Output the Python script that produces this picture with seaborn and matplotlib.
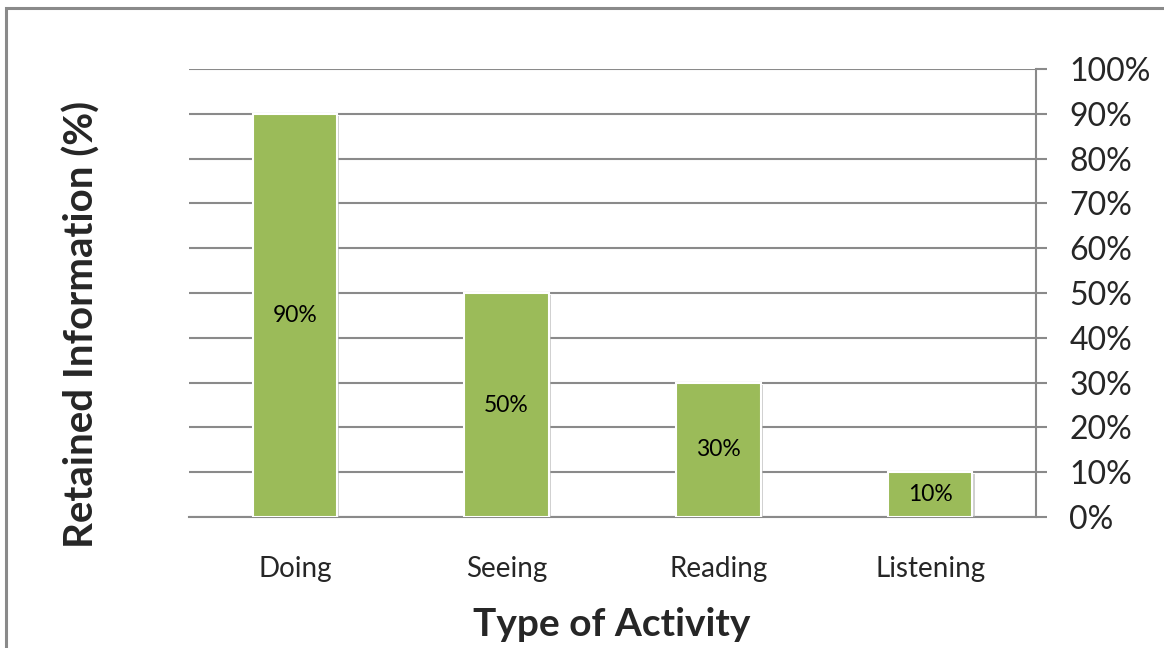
import numpy as np
import pandas as pd
import seaborn as sns
import matplotlib
matplotlib.use("Agg")
import matplotlib.pyplot as plt
import matplotlib.patheffects as pe
from matplotlib.patches import Rectangle
from matplotlib.ticker import FixedLocator, PercentFormatter

activities = ["Doing", "Seeing", "Reading", "Listening"]
retained = [90, 50, 30, 10]
y_ticks = [0, 10, 20, 30, 40, 50, 60, 70, 80, 90, 100]

df = pd.DataFrame({"activity": activities, "retained": retained})

sns.set_style("white")
plt.rcParams["font.family"] = ["Lato", "DejaVu Sans"]

W, H = 1164, 648
fig = plt.figure(figsize=(W / 100, H / 100), dpi=100)
ax = fig.add_axes([189 / W, 1 - 517 / H, (1036 - 189) / W, (517 - 69) / H])

sns.barplot(data=df, x="activity", y="retained", color="#9BBB59", saturation=1,
            width=0.4, edgecolor="white", linewidth=1.5, ax=ax, zorder=3)
for p in ax.patches:
    p.set_path_effects([pe.SimplePatchShadow(offset=(1.5, -1.5), shadow_rgbFace="#b0b0b0", alpha=0.6),
                        pe.Normal()])

ax.bar_label(ax.containers[0], labels=[f"{v}%" for v in retained], label_type="center",
             fontsize=16.5, color="black")

ax.set_ylim(0, 100)
ax.set_xlim(-0.5, len(activities) - 0.5)
ax.yaxis.tick_right()
ax.set_yticks(y_ticks)
ax.yaxis.set_major_formatter(PercentFormatter(decimals=0))
ax.yaxis.grid(True, color="#8a8a8a", linewidth=1.5, zorder=0)
ax.set_axisbelow(True)

# category boundaries get tick marks, category centres get labels
ax.xaxis.set_major_locator(FixedLocator(np.arange(-0.5, len(activities), 1.0)))
ax.xaxis.set_minor_locator(FixedLocator(np.arange(len(activities))))
ax.set_xticklabels([])
ax.set_xticklabels(activities, minor=True)
ax.tick_params(axis="x", which="major", length=8, width=1.5, color="#8a8a8a", direction="out")
ax.tick_params(axis="x", which="minor", length=0, pad=28, labelsize=20)
ax.tick_params(axis="y", length=8, width=1.5, color="#8a8a8a", direction="out",
               pad=16, labelsize=23, right=True, left=False)

for side in ["top", "left"]:
    ax.spines[side].set_visible(False)
for side in ["right", "bottom"]:
    ax.spines[side].set_color("#8a8a8a")
    ax.spines[side].set_linewidth(1.5)

ax.set_xlabel("")
ax.set_ylabel("")
fig.text(82 / W, 1 - 324 / H, "Retained Information (%)", rotation=90, ha="center",
         va="center", fontsize=29, fontweight="bold")
fig.text(612 / W, 1 - 624 / H, "Type of Activity", ha="center", va="center",
         fontsize=28, fontweight="bold")

fig.patches.append(Rectangle((6 / W, -0.1), 1.2, 1 - 8 / H + 0.1, transform=fig.transFigure,
                             fill=False, edgecolor="#8a8a8a", linewidth=2.2))

fig.savefig("out.png", dpi=100)
